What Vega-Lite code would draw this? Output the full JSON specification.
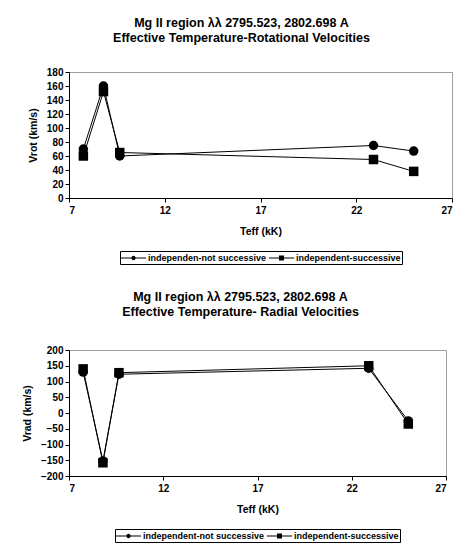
{
  "$schema": "https://vega.github.io/schema/vega-lite/v6.json",
  "background": "white",
  "padding": {"top": 16, "left": 21, "right": 7, "bottom": 2},
  "spacing": 25,
  "align": "none",
  "datasets": {
    "rot": [
      {"series": "independen-not successive", "teff": 7.75, "v": 70},
      {"series": "independen-not successive", "teff": 8.8, "v": 160},
      {"series": "independen-not successive", "teff": 9.65, "v": 60},
      {"series": "independen-not successive", "teff": 22.9, "v": 75},
      {"series": "independen-not successive", "teff": 25, "v": 67},
      {"series": "independent-successive", "teff": 7.75, "v": 60},
      {"series": "independent-successive", "teff": 8.8, "v": 152},
      {"series": "independent-successive", "teff": 9.65, "v": 65},
      {"series": "independent-successive", "teff": 22.9, "v": 55},
      {"series": "independent-successive", "teff": 25, "v": 38}
    ],
    "rad": [
      {"series": "independent-not successive", "teff": 7.75, "v": 130},
      {"series": "independent-not successive", "teff": 8.8, "v": -152},
      {"series": "independent-not successive", "teff": 9.65, "v": 123},
      {"series": "independent-not successive", "teff": 22.9, "v": 142},
      {"series": "independent-not successive", "teff": 25, "v": -25},
      {"series": "independent-successive", "teff": 7.75, "v": 140},
      {"series": "independent-successive", "teff": 8.8, "v": -158},
      {"series": "independent-successive", "teff": 9.65, "v": 128},
      {"series": "independent-successive", "teff": 22.9, "v": 150},
      {"series": "independent-successive", "teff": 25, "v": -35}
    ]
  },
  "config": {
    "font": "Liberation Sans",
    "view": {"stroke": "#a0a0a0", "strokeWidth": 1},
    "axis": {
      "domainColor": "black", "tickColor": "black", "tickSize": 4, "grid": false,
      "labelFont": "Liberation Sans", "labelFontWeight": "bold", "labelFontSize": 10, "labelColor": "black",
      "titleFont": "Liberation Sans", "titleFontWeight": "bold", "titleFontSize": 10.5, "titleColor": "black",
      "labelOverlap": false
    },
    "title": {"font": "Liberation Sans", "fontWeight": "bold", "fontSize": 12.5, "color": "black", "offset": 23, "lineHeight": 15},
    "legend": {
      "orient": "bottom", "direction": "horizontal", "strokeColor": "black", "padding": 1,
      "symbolSize": 144, "symbolStrokeWidth": 0, "symbolFillColor": "black", "symbolStrokeColor": "black",
      "labelFont": "Liberation Sans", "labelFontWeight": "bold", "labelFontSize": 9, "labelColor": "black",
      "labelOffset": 8.5, "columnPadding": 1, "offset": 14, "symbolOffset": 6.5,
      "layout": {"bottom": {"anchor": "middle"}}
    }
  },
  "vconcat": [
    {
      "width": 383, "height": 126,
      "title": {"text": ["Mg II region λλ 2795.523, 2802.698 A", "Effective Temperature-Rotational Velocities"], "dx": -19},
      "data": {"name": "rot"},
      "encoding": {
        "x": {"field": "teff", "type": "quantitative", "title": "Teff (kK)",
          "scale": {"domain": [7, 27], "nice": false, "zero": false},
          "axis": {"values": [7, 12, 17, 22, 27], "labelPadding": 3, "titlePadding": 11}},
        "y": {"field": "v", "type": "quantitative", "title": "Vrot (km/s)",
          "scale": {"domain": [0, 180], "nice": false},
          "axis": {"values": [0, 20, 40, 60, 80, 100, 120, 140, 160, 180], "labelPadding": 2, "titlePadding": 8}}
      },
      "layer": [
        {"mark": {"type": "line", "color": "black", "strokeWidth": 1}, "encoding": {"detail": {"field": "series"}}},
        {"transform": [{"filter": "datum.series === 'independen-not successive'"}],
          "mark": {"type": "point", "shape": "circle", "filled": true, "color": "black", "opacity": 1, "size": 90}},
        {"transform": [{"filter": "datum.series === 'independent-successive'"}],
          "mark": {"type": "point", "shape": "square", "filled": true, "color": "black", "opacity": 1, "size": 90}},
        {"transform": [{"filter": "false"}],
          "mark": {"type": "point", "filled": true, "color": "black", "opacity": 1},
          "encoding": {"shape": {"field": "series", "type": "nominal",
            "scale": {"domain": ["independen-not successive", "independent-successive"],
              "range": ["M-2.1,-0.085H2.1V0.085H-2.1ZM0.36,0A0.36,0.36,0,1,1,-0.36,0A0.36,0.36,0,1,1,0.36,0Z", "M-2.1,-0.085H2.1V0.085H-2.1ZM-0.42,-0.42H0.42V0.42H-0.42Z"]},
            "legend": {"title": null}}}}
      ]
    },
    {
      "width": 377, "height": 126,
      "title": {"text": ["Mg II region λλ 2795.523, 2802.698 A", "Effective Temperature- Radial Velocities"], "offset": 27, "dx": -17},
      "data": {"name": "rad"},
      "encoding": {
        "x": {"field": "teff", "type": "quantitative", "title": "Teff (kK)",
          "scale": {"domain": [7, 27], "nice": false, "zero": false},
          "axis": {"values": [7, 12, 17, 22, 27], "labelPadding": 3, "titlePadding": 11}},
        "y": {"field": "v", "type": "quantitative", "title": "Vrad (km/s)",
          "scale": {"domain": [-200, 200], "nice": false},
          "axis": {"values": [-200, -150, -100, -50, 0, 50, 100, 150, 200], "labelPadding": 2, "titlePadding": 8}}
      },
      "layer": [
        {"mark": {"type": "line", "color": "black", "strokeWidth": 1}, "encoding": {"detail": {"field": "series"}}},
        {"transform": [{"filter": "datum.series === 'independent-not successive'"}],
          "mark": {"type": "point", "shape": "circle", "filled": true, "color": "black", "opacity": 1, "size": 90}},
        {"transform": [{"filter": "datum.series === 'independent-successive'"}],
          "mark": {"type": "point", "shape": "square", "filled": true, "color": "black", "opacity": 1, "size": 90}},
        {"transform": [{"filter": "false"}],
          "mark": {"type": "point", "filled": true, "color": "black", "opacity": 1},
          "encoding": {"shape": {"field": "series", "type": "nominal",
            "scale": {"domain": ["independent-not successive", "independent-successive"],
              "range": ["M-2.1,-0.085H2.1V0.085H-2.1ZM0.36,0A0.36,0.36,0,1,1,-0.36,0A0.36,0.36,0,1,1,0.36,0Z", "M-2.1,-0.085H2.1V0.085H-2.1ZM-0.42,-0.42H0.42V0.42H-0.42Z"]},
            "legend": {"title": null}}}}
      ]
    }
  ],
  "resolve": {"scale": {"shape": "independent"}, "legend": {"shape": "independent"}}
}
